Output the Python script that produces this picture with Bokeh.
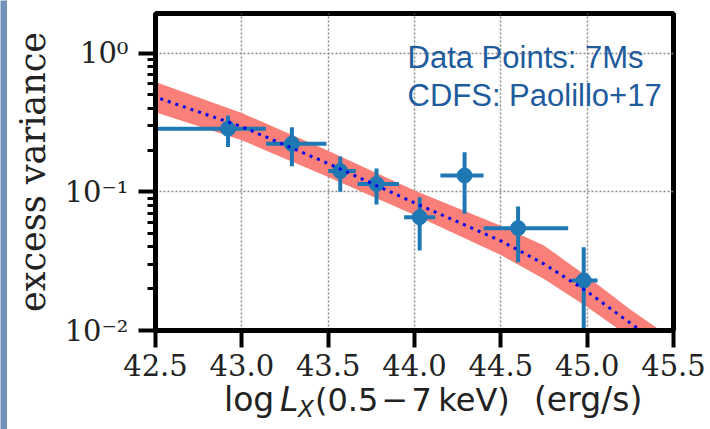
from bokeh.plotting import figure
from bokeh.layouts import row, column
from bokeh.models import Range1d, FixedTicker, PrintfTickFormatter, CustomJSTickFormatter, Label, Div
from bokeh.embed import file_html
from bokeh.resources import INLINE

# ---- data points (7Ms CDFS, Paolillo+17) ----
lx = [42.92, 43.29, 43.57, 43.78, 44.03, 44.29, 44.60, 44.98]
lx_lo = [42.30, 43.14, 43.50, 43.67, 43.94, 44.15, 44.40, 44.91]
lx_hi = [43.14, 43.49, 43.66, 43.91, 44.12, 44.40, 44.89, 45.06]
var = [0.285, 0.222, 0.141, 0.114, 0.0656, 0.131, 0.0547, 0.0229]
var_lo = [0.210, 0.153, 0.100, 0.081, 0.0378, 0.0695, 0.0311, 0.005]
var_hi = [0.355, 0.292, 0.180, 0.147, 0.0915, 0.193, 0.0784, 0.0399]

# ---- model curve and band ----
mod_lx = [42.4, 42.5, 43.0, 43.5, 44.0, 44.5, 44.75, 45.0, 45.25, 45.5, 45.6]
mod_mid = [0.55, 0.482, 0.295, 0.160, 0.0832, 0.0443, 0.0302, 0.0191, 0.0113, 0.00676, 0.0055]
mod_upper = [0.71, 0.62, 0.37, 0.198, 0.102, 0.057, 0.041, 0.0245, 0.0142, 0.0086, 0.0070]
mod_lower = [0.43, 0.375, 0.235, 0.128, 0.068, 0.035, 0.0235, 0.0148, 0.0089, 0.0053, 0.0043]

x_ticks = [42.5, 43.0, 43.5, 44.0, 44.5, 45.0, 45.5]
y_ticks = [0.01, 0.1, 1.0]
y_minor = [0.02, 0.03, 0.04, 0.05, 0.06, 0.07, 0.08, 0.09,
           0.2, 0.3, 0.4, 0.5, 0.6, 0.7, 0.8, 0.9]

annot_lines = ["Data Points: 7Ms", "CDFS: Paolillo+17"]
ylabel = "excess variance"
# x label pieces: text, left edge (page px), baseline (page px), size px, italic
xlabel_parts = [
    ("log", 224, 411, 33, False),
    ("L", 280, 411, 33, True),
    ("X", 298, 418, 23, True),
    ("(0.5\u200a\u2212\u200a7\u2009keV)", 315, 411, 32, False),
    ("(erg/s)", 534, 411, 33, False),
]

STRIP_W = 7
W = 710 - STRIP_W
H1 = 386
H2 = 429 - H1

# ---- left decorative strip ----
strip = figure(width=STRIP_W, height=429, output_backend="svg", toolbar_location=None,
               x_axis_location=None, y_axis_location=None, min_border=0)
strip.background_fill_color = "#7191bb"
strip.border_fill_color = "#7191bb"
strip.outline_line_color = None

# ---- main plot ----
p = figure(width=W, height=H1, y_axis_type="log",
           x_range=Range1d(42.5, 45.5), y_range=Range1d(0.01, 1.93),
           output_backend="svg", toolbar_location=None,
           min_border_left=155 - STRIP_W, min_border_right=W - (673 - STRIP_W),
           min_border_top=13, min_border_bottom=H1 - 330)
p.background_fill_color = "white"
p.border_fill_color = "white"
p.outline_line_color = "black"
p.outline_line_width = 5

p.varea(x=mod_lx, y1=mod_lower, y2=mod_upper, fill_color="#f88078", fill_alpha=1.0)
p.segment(x0=lx_lo, y0=var, x1=lx_hi, y1=var, line_color="#1f77b4", line_width=4)
p.segment(x0=lx, y0=var_lo, x1=lx, y1=var_hi, line_color="#1f77b4", line_width=4)
p.scatter(x=lx, y=var, size=15, fill_color="#1f77b4", line_color="#1f77b4")
p.line(x=mod_lx, y=mod_mid, line_color="#0000ee", line_width=3, line_dash="3 5")

p.xaxis.ticker = FixedTicker(ticks=x_ticks)
p.xaxis.formatter = PrintfTickFormatter(format="%.1f")
p.yaxis.ticker = FixedTicker(ticks=y_ticks, minor_ticks=y_minor)
p.yaxis.formatter = CustomJSTickFormatter(code="""
const e = Math.round(Math.log10(tick));
const sup = {'0':'\u2070','1':'\u00b9','2':'\u00b2','3':'\u00b3','-':'\u207b'};
return '10' + String(e).split('').map(c => sup[c]).join('');
""")

for ax in (p.xaxis[0], p.yaxis[0]):
    ax.axis_line_width = 5
    ax.axis_line_color = "black"
    ax.major_tick_line_width = 4
    ax.major_tick_out = 17
    ax.major_tick_in = 0
    ax.minor_tick_line_width = 3
    ax.minor_tick_out = 8
    ax.minor_tick_in = 0
    ax.major_label_text_font = "DejaVu Serif"
    ax.major_label_text_font_size = "29px"
    ax.major_label_text_color = "#222222"

p.xaxis.minor_tick_out = 0
p.xaxis.major_label_standoff = 6
p.yaxis.major_label_standoff = 10

p.yaxis.axis_label = ylabel
p.yaxis.axis_label_text_font = "DejaVu Serif"
p.yaxis.axis_label_text_font_size = "35px"
p.yaxis.axis_label_text_font_style = "normal"
p.yaxis.axis_label_text_color = "#222222"
p.yaxis.axis_label_standoff = 9

for g in (p.xgrid[0], p.ygrid[0]):
    g.grid_line_color = "#888888"
    g.grid_line_width = 1.5
    g.grid_line_dash = "2 2"

for i, t in enumerate(annot_lines):
    p.add_layout(Label(x=252, y=273 - 38 * i, x_units="screen", y_units="screen", text=t,
                       text_font="Liberation Sans", text_font_size="31px",
                       text_color="#1f5c9e", text_baseline="alphabetic", text_align="left"))

# ---- x-axis label: log L_X (0.5 - 7 keV)  (erg/s) ----
spans = []
for txt, px, py, fs, ital in xlabel_parts:
    top = py - H1 - round(0.85 * fs)
    style = ("position:absolute;left:%dpx;top:%dpx;font-size:%dpx;line-height:1;"
             "font-style:%s;white-space:nowrap" % (px - STRIP_W, top, fs, "italic" if ital else "normal"))
    spans.append('<span style="%s">%s</span>' % (style, txt))
html = ('<div style="position:relative;width:%dpx;height:%dpx;font-family:\'DejaVu Sans\';'
        'color:#222222;overflow:visible">%s</div>' % (W, H2, "".join(spans)))
xlab = Div(text=html, width=W, height=H2, margin=(0, 0, 0, 0))

layout = row(strip, column(p, xlab, spacing=0), spacing=0)
open("out.html", "w").write(file_html(layout, INLINE))
